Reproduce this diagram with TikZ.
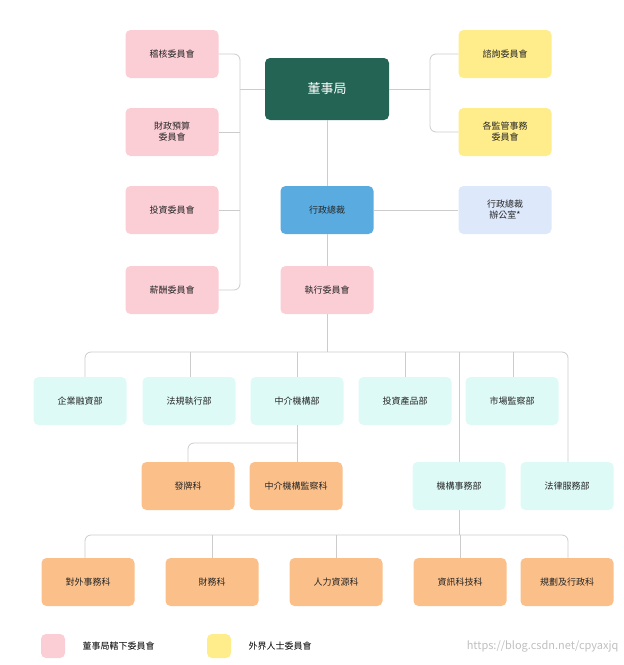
\documentclass[tikz,border=0pt]{standalone}
\usepackage{fontspec}
\setmainfont{Noto Sans CJK TC}
\usetikzlibrary{positioning}
\definecolor{pinkc}{HTML}{FBCDD4}
\definecolor{boardc}{HTML}{236454}
\definecolor{ceoc}{HTML}{5AACE0}
\definecolor{officec}{HTML}{DDE8FB}
\definecolor{yellowc}{HTML}{FFEC8A}
\definecolor{deptc}{HTML}{DDFAF6}
\definecolor{orangec}{HTML}{FBC08A}
\definecolor{linec}{HTML}{CCCCCC}
\tikzset{
  box/.style={rounded corners=5pt, minimum width=93pt, minimum height=48pt, align=center, font=\fontsize{9}{11}\selectfont, text=black!85, inner sep=2pt},
  comm/.style={box, fill=pinkc},
  outside/.style={box, fill=yellowc},
  dept/.style={box, fill=deptc},
  sect/.style={box, fill=orangec},
  link/.style={draw=linec, line width=0.8pt, rounded corners=6pt},
}
\begin{document}
\begin{tikzpicture}[x=1pt,y=-1pt]
\useasboundingbox (0,0) rectangle (624,665);
% board and committees
\node[box, fill=boardc, minimum width=124pt, minimum height=62pt, text=white, font=\fontsize{13}{15}\selectfont] (board) at (327,89) {董事局};
\node[comm] (audit) at (172,54) {稽核委員會};
\node[comm] (budget) at (172,132) {財政預算\\委員會};
\node[comm] (invest) at (172,210) {投資委員會};
\node[comm] (pay) at (172,290) {薪酬委員會};
\node[outside] (advice) at (505,54) {諮詢委員會};
\node[outside] (regul) at (505,132) {各監管事務\\委員會};
\node[box, fill=ceoc] (ceo) at (327,210) {行政總裁};
\node[box, fill=officec] (office) at (505,210) {行政總裁\\辦公室*};
\node[comm] (exec) at (327,290) {執行委員會};
% departments
\node[dept] (corp) at (80,401) {企業融資部};
\node[dept] (enforce) at (189,401) {法規執行部};
\node[dept] (interm) at (297,401) {中介機構部};
\node[dept] (product) at (405,401) {投資產品部};
\node[dept] (market) at (512,401) {市場監察部};
\node[sect] (licence) at (188,486) {發牌科};
\node[sect] (supervise) at (296,486) {中介機構監察科};
\node[dept] (inst) at (459,486) {機構事務部};
\node[dept] (legal) at (567,486) {法律服務部};
\node[sect] (external) at (88,582) {對外事務科};
\node[sect] (finance) at (212,582) {財務科};
\node[sect] (hr) at (336,582) {人力資源科};
\node[sect] (it) at (460,582) {資訊科技科};
\node[sect] (plan) at (567,582) {規劃及行政科};
% connectors
\draw[link] (audit.east) -- (240,54) -- (240,290) -- (pay.east);
\draw[link] (budget.east) -- (240,132);
\draw[link] (invest.east) -- (240,210);
\draw[link] (board.west) -- (240,89);
\draw[link] (advice.west) -- (430,54) -- (430,132) -- (regul.west);
\draw[link] (board.east) -- (430,89);
\draw[link] (board) -- (ceo);
\draw[link] (ceo) -- (exec);
\draw[link] (ceo) -- (office);
\draw[link] (exec.south) -- (327,352);
\draw[link] (corp.north -| 85,0) -- (85,352) -- (568,352) -- (legal.north -| 568,0);
\foreach \n/\x in {enforce/190, interm/297, product/405, market/513}
  \draw[link] (\n.north -| \x,0) -- (\x,352);
\draw[link] (inst.north) -- (459,352);
\draw[link] (interm.south) -- (supervise.north -| 297,0);
\draw[link] (licence.north) -- (188,443) -- (297,443);
\draw[link] (external.north -| 85,0) -- (85,535) -- (568,535) -- (plan.north -| 568,0);
\foreach \n/\x in {finance/212, hr/336, it/460}
  \draw[link] (\n.north) -- (\x,535);
\draw[link] (inst.south) -- (459,535);
% legend
\node[fill=pinkc, rounded corners=5pt, minimum size=24pt] (keyboard) at (53,646) {};
\node[right=14pt of keyboard, font=\fontsize{9}{11}\selectfont] (keyboardtext) {董事局轄下委員會};
\node[fill=yellowc, rounded corners=5pt, minimum size=24pt] (keyoutside) at (219,646) {};
\node[right=14pt of keyoutside, font=\fontsize{9}{11}\selectfont] (keyoutsidetext) {外界人士委員會};
\node[text=black!25, font=\fontsize{11}{13}\selectfont, anchor=east] (mark) at (622,646) {https://blog.csdn.net/cpyaxjq};
\end{tikzpicture}
\end{document}
